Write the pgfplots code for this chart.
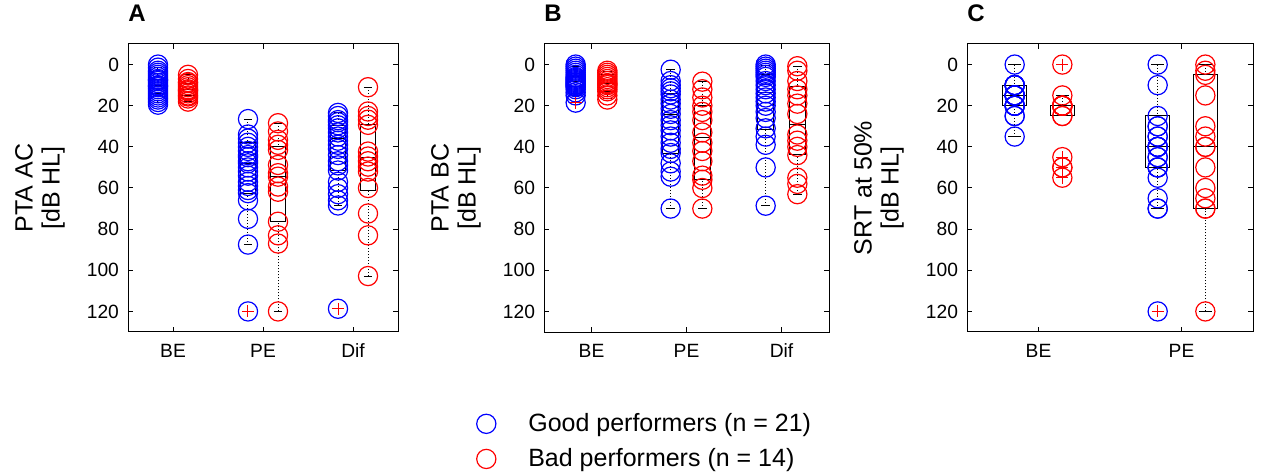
\documentclass[border=0pt]{standalone}
\usepackage{fontspec}
\setmainfont{Liberation Sans}
\usepackage{pgfplots}
\pgfplotsset{compat=1.18}
\usepgfplotslibrary{statistics}
\pgfplotsset{
  boxplot/draw direction=y,
  boxplot/draw/lower whisker/.code={%
    \draw[black, line width=0.5pt, densely dotted]
      (boxplot cs:\pgfplotsboxplotvalue{lower whisker}) -- (boxplot cs:\pgfplotsboxplotvalue{lower quartile});
    \draw[black, line width=0.5pt]
      (boxplot whisker cs:\pgfplotsboxplotvalue{lower whisker},0) -- (boxplot whisker cs:\pgfplotsboxplotvalue{lower whisker},1);
  },
  boxplot/draw/upper whisker/.code={%
    \draw[black, line width=0.5pt, densely dotted]
      (boxplot cs:\pgfplotsboxplotvalue{upper whisker}) -- (boxplot cs:\pgfplotsboxplotvalue{upper quartile});
    \draw[black, line width=0.5pt]
      (boxplot whisker cs:\pgfplotsboxplotvalue{upper whisker},0) -- (boxplot whisker cs:\pgfplotsboxplotvalue{upper whisker},1);
  },
  good/.style={only marks, mark=o, mark size=4.8pt, color=blue, mark options={line width=0.6pt}},
  bad/.style={only marks, mark=o, mark size=4.8pt, color=red, mark options={line width=0.6pt}},
  outl/.style={only marks, mark=+, mark size=3pt, color=red, mark options={line width=0.5pt}},
  bp/.style={black, line width=0.5pt, mark=none, boxplot prepared={#1, box extend=0.17, whisker extend=0.09}},
  panel/.style={
    scale only axis, height=144pt,
    ymin=-10, ymax=130, y dir=reverse,
    ytick={0,20,...,120}, xtick={1,2,3},
    tick align=inside, major tick length=2.5pt,
    axis line style={black, line width=0.5pt},
    every tick/.style={black, line width=0.5pt},
    tick label style={font=\fontsize{9.6}{11}\selectfont},
    /pgf/number format/assume math mode=true,
    yticklabel style={xshift=-1pt},
    xticklabel style={yshift=-2.5pt},
    ylabel style={font=\fontsize{12.5}{13.5}\selectfont, align=center, anchor=center},
    title style={font=\fontsize{12}{13}\selectfont\bfseries, at={(0,1)}, anchor=south west, inner sep=0pt, yshift=5pt},
  },
}
\begin{document}
\begin{tikzpicture}
% ---------------- Panel A ----------------
\begin{axis}[panel, at={(64pt,71.5pt)}, anchor=south west, width=135pt,
  xmin=0.5, xmax=3.5, xticklabels={BE,PE,Dif}, title={A},
  ylabel={PTA AC\\{[dB HL]}}, ylabel style={at={(axis description cs:-0.326,0.5)}}]
\addplot[good] coordinates {
(0.8333,0) (0.8333,1.5) (0.8333,3) (0.8333,4) (0.8333,5) (0.8333,6) (0.8333,7) (0.8333,7.5) (0.8333,8) (0.8333,9) (0.8333,10)
(0.8333,10.5) (0.8333,11) (0.8333,12) (0.8333,13) (0.8333,14) (0.8333,15) (0.8333,16) (0.8333,17) (0.8333,18.2) (0.8333,19.5)
(1.8333,26.5) (1.8333,34) (1.8333,36) (1.8333,38) (1.8333,40) (1.8333,42) (1.8333,44) (1.8333,45) (1.8333,47) (1.8333,48) (1.8333,50)
(1.8333,52) (1.8333,54) (1.8333,57) (1.8333,59) (1.8333,61) (1.8333,62.5) (1.8333,66) (1.8333,75) (1.8333,87.5) (1.8333,120)
(2.8333,23.5) (2.8333,25) (2.8333,27) (2.8333,28) (2.8333,29.5) (2.8333,31) (2.8333,33) (2.8333,35) (2.8333,37) (2.8333,39) (2.8333,41)
(2.8333,44) (2.8333,47) (2.8333,49) (2.8333,51.5) (2.8333,57) (2.8333,60) (2.8333,63) (2.8333,66) (2.8333,68.5) (2.8333,118.7)
};
\addplot[bad] coordinates {
(1.1667,5) (1.1667,7) (1.1667,8.5) (1.1667,9) (1.1667,10) (1.1667,11) (1.1667,12) (1.1667,12.5) (1.1667,13) (1.1667,14) (1.1667,15) (1.1667,15.5) (1.1667,16.5) (1.1667,18)
(2.1667,28.5) (2.1667,32.5) (2.1667,36.6) (2.1667,39) (2.1667,41.5) (2.1667,48.8) (2.1667,52.8) (2.1667,54.5) (2.1667,59.3) (2.1667,61.8) (2.1667,76.4) (2.1667,83) (2.1667,87) (2.1667,120)
(3.1667,11) (3.1667,22.8) (3.1667,25) (3.1667,26.8) (3.1667,29.3) (3.1667,42.3) (3.1667,44.7) (3.1667,47) (3.1667,49.6) (3.1667,52) (3.1667,60) (3.1667,72.4) (3.1667,83) (3.1667,102.8)
};
\addplot[bp={draw position=0.8333, lower whisker=1.5, lower quartile=7.3, median=10, upper quartile=14.3, upper whisker=18.2}] coordinates {};
\addplot[bp={draw position=1.1667, lower whisker=5, lower quartile=9, median=12, upper quartile=15, upper whisker=18}] coordinates {};
\addplot[bp={draw position=1.8333, lower whisker=26.5, lower quartile=38, median=48, upper quartile=62.5, upper whisker=87.5}] coordinates {};
\addplot[bp={draw position=2.1667, lower whisker=28.5, lower quartile=40, median=54.5, upper quartile=76.4, upper whisker=120}] coordinates {};
\addplot[bp={draw position=2.8333, lower whisker=23.5, lower quartile=29.8, median=36, upper quartile=51.7, upper whisker=68.5}] coordinates {};
\addplot[bp={draw position=3.1667, lower whisker=11, lower quartile=29, median=45, upper quartile=61.3, upper whisker=102.8}] coordinates {};
\addplot[outl] coordinates {(1.8333,120) (2.8333,118.7)};
\end{axis}
% ---------------- Panel B ----------------
\begin{axis}[panel, at={(272pt,71.5pt)}, anchor=south west, width=142.5pt,
  xmin=0.5, xmax=3.5, xticklabels={BE,PE,Dif}, title={B},
  ylabel={PTA BC\\{[dB HL]}}, ylabel style={at={(axis description cs:-0.309,0.5)}},
  legend style={at={(axis description cs:-0.26,-0.253)}, anchor=north west, draw=none, fill=none,
    font=\fontsize{12.5}{14}\selectfont, row sep=3pt, cells={anchor=west}},
  legend image code/.code={\path[draw=none] (-5pt,0pt) -- (19pt,0pt); \draw[#1, draw=none] plot coordinates {(0pt,0pt)};}]
\addlegendimage{good}
\addlegendentry{Good performers (n = 21)}
\addlegendimage{bad}
\addlegendentry{Bad performers (n = 14)}
\addplot[good] coordinates {
(0.8333,0) (0.8333,1) (0.8333,2) (0.8333,3) (0.8333,4) (0.8333,5) (0.8333,6) (0.8333,6.5) (0.8333,7) (0.8333,7.5) (0.8333,8)
(0.8333,8.5) (0.8333,9) (0.8333,9.5) (0.8333,10) (0.8333,10.5) (0.8333,11) (0.8333,12) (0.8333,13.5) (0.8333,15) (0.8333,18.5)
(1.8333,2.5) (1.8333,8) (1.8333,10) (1.8333,11.5) (1.8333,13) (1.8333,14.5) (1.8333,17) (1.8333,19) (1.8333,21.5) (1.8333,24) (1.8333,27)
(1.8333,29.5) (1.8333,32) (1.8333,35) (1.8333,38) (1.8333,41) (1.8333,43) (1.8333,48) (1.8333,52) (1.8333,54.5) (1.8333,70)
(2.8333,0) (2.8333,1) (2.8333,2) (2.8333,3) (2.8333,4) (2.8333,5) (2.8333,6) (2.8333,8) (2.8333,10) (2.8333,12) (2.8333,14)
(2.8333,16) (2.8333,18) (2.8333,20) (2.8333,23) (2.8333,26) (2.8333,31) (2.8333,35) (2.8333,39) (2.8333,50) (2.8333,68.6)
};
\addplot[bad] coordinates {
(1.1667,3) (1.1667,4) (1.1667,5) (1.1667,6) (1.1667,7) (1.1667,8) (1.1667,9) (1.1667,9.5) (1.1667,10) (1.1667,11) (1.1667,12) (1.1667,13) (1.1667,15) (1.1667,17)
(2.1667,8.3) (2.1667,12) (2.1667,16) (2.1667,20) (2.1667,23) (2.1667,27) (2.1667,33) (2.1667,38) (2.1667,42) (2.1667,47) (2.1667,54) (2.1667,56) (2.1667,60) (2.1667,70)
(3.1667,0.8) (3.1667,3) (3.1667,8) (3.1667,12) (3.1667,15) (3.1667,19) (3.1667,24) (3.1667,34) (3.1667,37) (3.1667,40) (3.1667,44) (3.1667,55) (3.1667,58) (3.1667,63)
};
\addplot[bp={draw position=0.8333, lower whisker=1, lower quartile=6, median=8.1, upper quartile=10.6, upper whisker=15}] coordinates {};
\addplot[bp={draw position=1.1667, lower whisker=3.3, lower quartile=4.9, median=9, upper quartile=13, upper whisker=16.7}] coordinates {};
\addplot[bp={draw position=1.8333, lower whisker=2.5, lower quartile=14.3, median=24.4, upper quartile=43, upper whisker=70}] coordinates {};
\addplot[bp={draw position=2.1667, lower whisker=8.3, lower quartile=20, median=35.5, upper quartile=56, upper whisker=70}] coordinates {};
\addplot[bp={draw position=2.8333, lower whisker=0.5, lower quartile=4.9, median=13.8, upper quartile=31.4, upper whisker=68.6}] coordinates {};
\addplot[bp={draw position=3.1667, lower whisker=0.8, lower quartile=10.6, median=29.3, upper quartile=43.6, upper whisker=63}] coordinates {};
\addplot[outl] coordinates {(0.8333,18.5)};
\end{axis}
% ---------------- Panel C ----------------
\begin{axis}[panel, at={(483.5pt,71.5pt)}, anchor=south west, width=143pt,
  xmin=0.5, xmax=2.5, xtick={1,2}, xticklabels={BE,PE}, title={C},
  ylabel={SRT at 50\%\\{[dB HL]}}, ylabel style={at={(axis description cs:-0.308,0.5)}}]
\addplot[good] coordinates {
(0.8333,0) (0.8333,10) (0.8333,10) (0.8333,10) (0.8333,10) (0.8333,10) (0.8333,15) (0.8333,15) (0.8333,15) (0.8333,15) (0.8333,15)
(0.8333,15) (0.8333,15) (0.8333,20) (0.8333,20) (0.8333,20) (0.8333,20) (0.8333,20) (0.8333,25) (0.8333,25) (0.8333,35)
(1.8333,0) (1.8333,10) (1.8333,25) (1.8333,30) (1.8333,30) (1.8333,35) (1.8333,35) (1.8333,40) (1.8333,40) (1.8333,40) (1.8333,40)
(1.8333,45) (1.8333,45) (1.8333,50) (1.8333,50) (1.8333,50) (1.8333,55) (1.8333,65) (1.8333,70) (1.8333,70) (1.8333,120)
};
\addplot[bad] coordinates {
(1.1667,0) (1.1667,15) (1.1667,20) (1.1667,20) (1.1667,20) (1.1667,20) (1.1667,20) (1.1667,20) (1.1667,25) (1.1667,25) (1.1667,45) (1.1667,50) (1.1667,50) (1.1667,55)
(2.1667,0) (2.1667,3) (2.1667,5) (2.1667,15) (2.1667,30) (2.1667,35) (2.1667,40) (2.1667,40) (2.1667,50) (2.1667,60) (2.1667,65) (2.1667,70) (2.1667,70) (2.1667,120)
};
\addplot[bp={draw position=0.8333, lower whisker=0, lower quartile=10, median=15, upper quartile=20, upper whisker=35}] coordinates {};
\addplot[bp={draw position=1.1667, lower whisker=15, lower quartile=20, median=20, upper quartile=25, upper whisker=25}] coordinates {};
\addplot[bp={draw position=1.8333, lower whisker=0, lower quartile=25, median=40, upper quartile=50, upper whisker=70}] coordinates {};
\addplot[bp={draw position=2.1667, lower whisker=0, lower quartile=5, median=40, upper quartile=70, upper whisker=120}] coordinates {};
\addplot[outl] coordinates {(1.1667,0) (1.1667,45) (1.1667,50) (1.1667,55) (1.8333,120)};
\end{axis}
\pgfresetboundingbox
\useasboundingbox (0pt,0pt) rectangle (630.5pt,237.5pt);
\end{tikzpicture}
\end{document}
